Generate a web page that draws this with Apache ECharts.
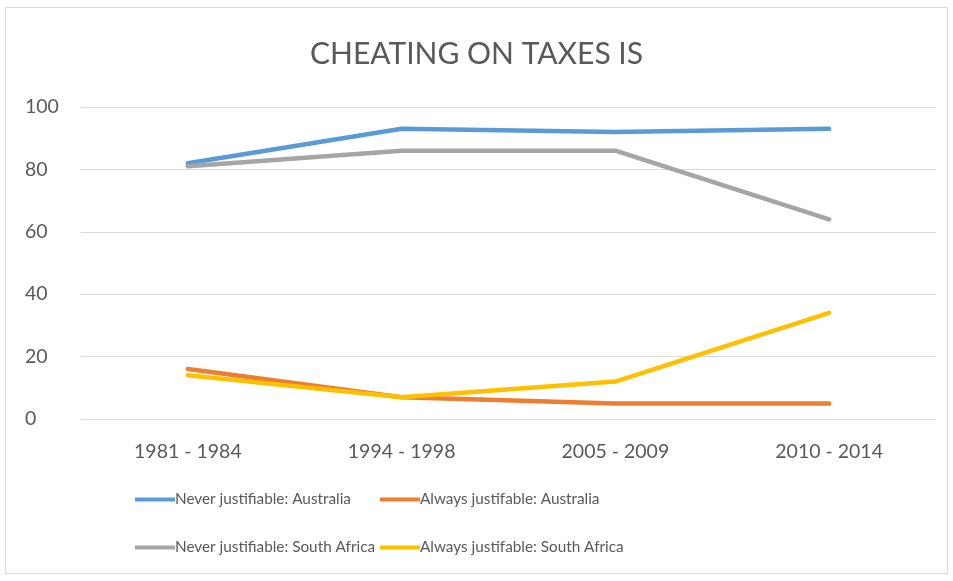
<!DOCTYPE html>
<html><head><meta charset="utf-8">
<script src="https://cdn.jsdelivr.net/npm/echarts@6/dist/echarts.min.js"></script>
<style>html,body{margin:0;padding:0;background:#fff}#c{width:953px;height:581px}</style>
</head><body><div id="c"></div>
<script>
const categories = ["1981 - 1984", "1994 - 1998", "2005 - 2009", "2010 - 2014"];
const seriesNames = ["Never justifiable: Australia", "Always justifable: Australia", "Never justifiable: South Africa", "Always justifable: South Africa"];
const neverAustralia = [82, 93, 92, 93];
const alwaysAustralia = [16, 7, 5, 5];
const neverSouthAfrica = [81, 86, 86, 64];
const alwaysSouthAfrica = [14, 7, 12, 34];
const colors = ["#5b9bd5", "#ed7d31", "#a5a5a5", "#ffc000"];
const font = "Lato, 'Open Sans', sans-serif";
const dataSets = [neverAustralia, alwaysAustralia, neverSouthAfrica, alwaysSouthAfrica];

const chart = echarts.init(document.getElementById('c'));
const legendCommon = {
  orient: 'vertical', itemWidth: 40, itemHeight: 4, itemGap: 33, icon: 'rect',
  textStyle: {color: '#595959', fontSize: 15.3, fontFamily: font, padding: [0,0,0,-5]}
};
chart.setOption({
  animation: false,
  graphic: [{type: 'rect', shape: {x: 5.5, y: 7.5, width: 942, height: 566},
    style: {fill: 'none', stroke: '#d9d9d9', lineWidth: 1}}],
  title: {text: 'CHEATING ON TAXES IS', left: 'center', top: 34,
    textStyle: {color: '#595959', fontSize: 30, fontWeight: 'normal', fontFamily: font}},
  legend: [
    Object.assign({left: 130, top: 487, data: [seriesNames[0], seriesNames[2]]}, legendCommon),
    Object.assign({left: 375, top: 487, data: [seriesNames[1], seriesNames[3]]}, legendCommon)
  ],
  grid: {left: 81, right: 17, top: 107, bottom: 162},
  xAxis: {type: 'category', data: categories, boundaryGap: true,
    axisLine: {show: true, lineStyle: {color: '#d9d9d9', width: 1}}, axisTick: {show: false},
    axisLabel: {color: '#595959', fontSize: 19.5, fontFamily: font, margin: 23}},
  yAxis: {type: 'value', min: 0, max: 100, interval: 20,
    axisLine: {show: false}, axisTick: {show: false},
    splitLine: {lineStyle: {color: '#d9d9d9', width: 1}},
    axisLabel: {color: '#595959', fontSize: 19.5, fontFamily: font, margin: 56, align: 'left'}},
  series: dataSets.map((d, i) => ({
    name: seriesNames[i], type: 'line', data: d, symbol: 'none',
    lineStyle: {color: colors[i], width: 4.5, join: 'round', cap: 'round'},
    itemStyle: {color: colors[i]}
  }))
});
</script></body></html>
